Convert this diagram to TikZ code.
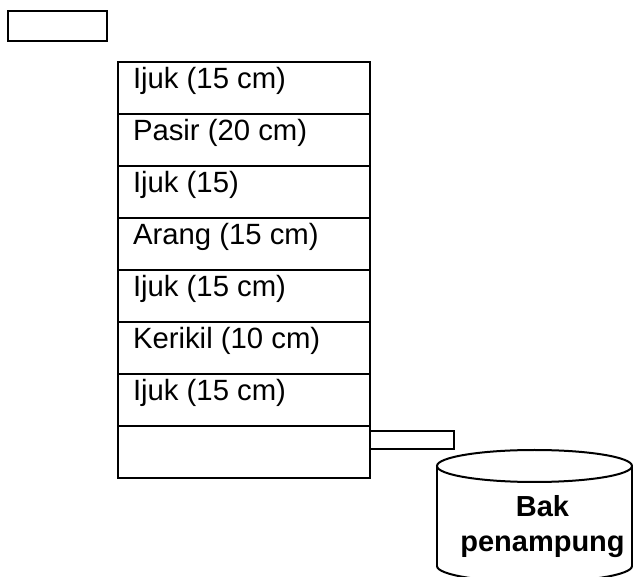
\documentclass[tikz,border=0pt]{standalone}
\usepackage{fontspec}
\setmainfont{Liberation Sans}
\begin{document}
\begin{tikzpicture}[x=1pt,y=-1pt, line width=2pt,
  box/.style={draw, anchor=north west, inner sep=0pt},
  layer/.style={box, minimum width=252pt, minimum height=52pt},
  lbl/.style={anchor=base west, inner sep=0pt, font=\fontsize{29.3}{36}\selectfont}]
\useasboundingbox (0,0) rectangle (633,577);
\clip (0,0) rectangle (633,577);
% small empty box at top left
\node[box, minimum width=99pt, minimum height=30pt] (topbox) at (7,10) {};
% filter layers
\node[layer] (r1) at (117,61) {};
\node[layer] (r2) at (117,113) {};
\node[layer] (r3) at (117,165) {};
\node[layer] (r4) at (117,217) {};
\node[layer] (r5) at (117,269) {};
\node[layer] (r6) at (117,321) {};
\node[layer] (r7) at (117,373) {};
\node[layer] (r8) at (117,425) {};
\node[lbl] (t1) at (132,89) {Ijuk (15 cm)};
\node[lbl] (t2) at (132,141) {Pasir (20 cm)};
\node[lbl] (t3) at (132,193) {Ijuk (15)};
\node[lbl] (t4) at (132,245) {Arang (15 cm)};
\node[lbl] (t5) at (132,297) {Ijuk (15 cm)};
\node[lbl] (t6) at (132,349) {Kerikil (10 cm)};
\node[lbl] (t7) at (132,401) {Ijuk (15 cm)};
% outlet pipe
\node[box, minimum width=84pt, minimum height=18pt] (pipe) at (369,430) {};
% storage tank (cylinder)
\draw (437,466) -- (437,566);
\draw (632,466) -- (632,566);
\draw (534.5,466) ellipse [x radius=97.5, y radius=16];
\draw (437,566) arc[start angle=180, end angle=0, x radius=97.5, y radius=16];
\node[align=center, inner sep=0pt, font=\bfseries\fontsize{29}{35}\selectfont] (bak) at (542.5,527) {Bak\\penampung};
\end{tikzpicture}
\end{document}
